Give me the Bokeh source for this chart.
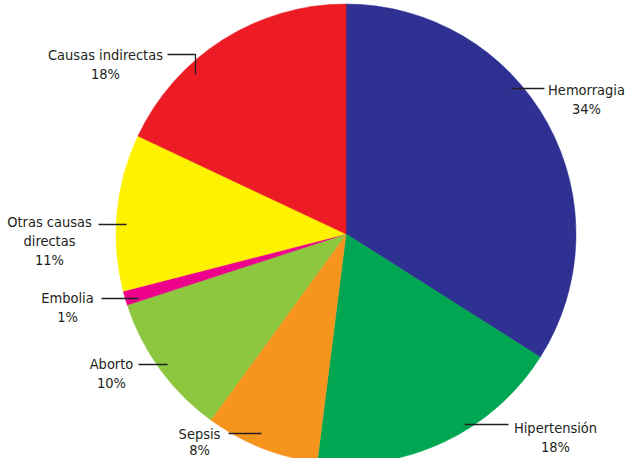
import math
from bokeh.plotting import figure
from bokeh.models import Range1d, ColumnDataSource
from bokeh.core.properties import value
from bokeh.embed import file_html
from bokeh.resources import INLINE

# ---- data ----
categories = ["Hemorragia", "Hipertensión", "Sepsis", "Aborto", "Embolia",
              "Otras causas directas", "Causas indirectas"]
values = [34, 18, 8, 10, 1, 11, 18]
colors = ["#2E3192", "#00A651", "#F7941D", "#8DC63F", "#EC008C", "#FFF200", "#ED1C24"]
label_lines = [["Hemorragia"], ["Hipertensión"], ["Sepsis"], ["Aborto"], ["Embolia"],
               ["Otras causas", "directas"], ["Causas indirectas"]]

# ---- layout (page pixel positions) ----
W, H = 627, 458
def X(px): return px - 8
def Y(py): return (H + 8) - py

CX, CY, R = 353.5, 241.5, 230
label_cx = [594, 563, 207, 119, 75, 57, 113]
label_top = [97, 435, 441, 371, 305, 229, 62]
label_gap = [19, 19, 16, 19, 19, 19, 19]
leaders = [
    ([519, 552], [96, 96]),
    ([472, 516], [432, 432]),
    ([236, 269], [441, 441]),
    ([146, 175], [372, 372]),
    ([109, 146], [306, 306]),
    ([106, 134], [232, 232]),
    ([175, 203, 203], [62, 62, 82]),
]
FONT = "'DejaVu Sans Condensed', 'Liberation Sans Narrow', sans-serif"

p = figure(width=W, height=H, output_backend="svg", toolbar_location=None,
           x_range=Range1d(0, W), y_range=Range1d(0, H), min_border=0)
p.axis.visible = False
p.grid.visible = False
p.outline_line_color = None
p.background_fill_color = "white"

total = sum(values)
starts, ends = [], []
acc = 0
for v in values:
    starts.append(math.pi / 2 - 2 * math.pi * acc / total)
    acc += v
    ends.append(math.pi / 2 - 2 * math.pi * acc / total)

src = ColumnDataSource(dict(x=[X(CX)] * len(values), y=[Y(CY)] * len(values),
                            start=starts, end=ends, color=colors, cat=categories))
p.wedge(x="x", y="y", radius=R, start_angle="start", end_angle="end",
        direction="clock", fill_color="color", line_color="color", line_width=0.5,
        source=src)

p.multi_line(xs=[[X(a) for a in xs] for xs, ys in leaders],
             ys=[[Y(b) for b in ys] for xs, ys in leaders],
             line_color="#231F20", line_width=1.3)

tx, ty, tt = [], [], []
for i, lines in enumerate(label_lines):
    allines = lines + [f"{values[i]}%"]
    for j, t in enumerate(allines):
        tx.append(X(label_cx[i]))
        ty.append(Y(label_top[i] + j * label_gap[i]))
        tt.append(t)

p.text(x=tx, y=ty, text=tt, text_align="center", text_baseline="middle",
       text_font=value(FONT), text_font_size="14.5px",
       text_color="#231F20")

open("out.html", "w").write(file_html(p, INLINE))
